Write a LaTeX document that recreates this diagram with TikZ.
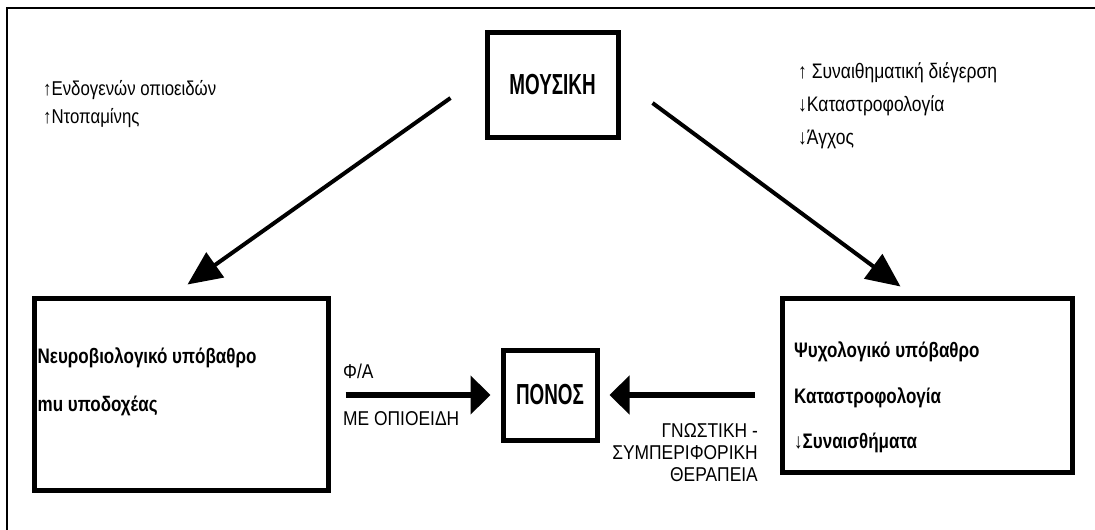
\documentclass[tikz,border=0pt]{standalone}
\usepackage{fontspec}
\usetikzlibrary{arrows.meta,calc}
\setmainfont{Liberation Sans}
\newfontfamily\nreg{Liberation Sans}[FakeStretch=0.84]
\newfontfamily\nrbig{Liberation Sans}[FakeStretch=0.833]
\newfontfamily\nlab{Liberation Sans}[FakeStretch=0.87]
\newfontfamily\ntitle{Liberation Sans}[FakeStretch=0.65,UprightFont={* Bold}]
\newfontfamily\nbox{Liberation Sans}[FakeStretch=0.81,UprightFont={* Bold}]
\begin{document}
\begin{tikzpicture}[x=1pt,y=-1pt,
  box/.style={draw=black,line width=5pt,inner sep=0pt},
  titletext/.style={font=\ntitle\fontsize{29}{31}\selectfont},
  boxtext/.style={inner sep=0pt,anchor=base west,font=\nbox\fontsize{21}{23}\selectfont},
  note/.style={inner sep=0pt,anchor=base west,font=\nreg\fontsize{20}{22}\selectfont},
  notebig/.style={inner sep=0pt,anchor=base west,font=\nrbig\fontsize{21}{23}\selectfont},
  lab/.style={inner sep=0pt,anchor=base west,font=\nlab\fontsize{20}{22}\selectfont},
  labR/.style={lab,anchor=base east},
  diag/.style={line width=4pt,-{Triangle[length=34pt,width=30pt]}},
  horiz/.style={line width=6pt,-{Triangle[length=20pt,width=38pt]}}]
\useasboundingbox (0,0) rectangle (1095,530);
\fill[white] (0,0) rectangle (1095,530);
% outer frame
\draw[line width=2pt] (1095,8) -- (7,8) -- (7,530);
% boxes
\node[box,titletext,minimum width=131pt,minimum height=105pt] (mus) at (552.5,84.5) {ΜΟΥΣΙΚΗ};
\node[box,titletext,minimum width=94pt,minimum height=90pt] (pon) at (550,395) {ΠΟΝΟΣ};
\node[box,minimum width=294pt,minimum height=192pt] (neuro) at (181,394) {};
\node[box,minimum width=290pt,minimum height=174pt] (psy) at (927,385) {};
% box texts
\node[boxtext] (n1) at (37.5,363) {Νευροβιολογικό υπόβαθρο};
\node[boxtext] (n2) at (37.5,411) {mu υποδοχέας};
\node[boxtext] (p1) at (794,357) {Ψυχολογικό υπόβαθρο};
\node[boxtext] (p2) at (794,403) {Καταστροφολογία};
\node[boxtext] (p3) at (794,448) {↓Συναισθήματα};
% side notes
\node[note] (l1) at (43,95) {↑Ενδογενών οπιοειδών};
\node[note] (l2) at (43,123) {↑Ντοπαμίνης};
\node[notebig] (r1) at (798,78) {↑ Συναιθηματική διέγερση};
\node[notebig] (r2) at (798,111) {↓Καταστροφολογία};
\node[notebig] (r3) at (798,144) {↓Άγχος};
% arrow labels
\node[lab] (fa) at (343,378) {Φ/Α};
\node[lab] (me) at (343,425) {ΜΕ ΟΠΙΟΕΙΔΗ};
\node[labR] (g1) at (758,437) {ΓΝΩΣΤΙΚΗ -};
\node[labR] (g2) at (758,459) {ΣΥΜΠΕΡΙΦΟΡΙΚΗ};
\node[labR] (g3) at (758,481) {ΘΕΡΑΠΕΙΑ};
% connectors
\draw[diag] ($(mus.west)+(-34,13.5)$) -- ($(neuro.north west)+(156,-11)$);
\draw[diag] ($(mus.east)+(32,18.5)$) -- ($(psy.north west)+(121,-9)$);
\draw[horiz] ($(neuro.east)+(15,1)$) -- ($(pon.west)+(-10,0)$);
\draw[horiz] ($(psy.west)+(-25,10)$) -- ($(pon.east)+(10,0)$);
\end{tikzpicture}
\end{document}
